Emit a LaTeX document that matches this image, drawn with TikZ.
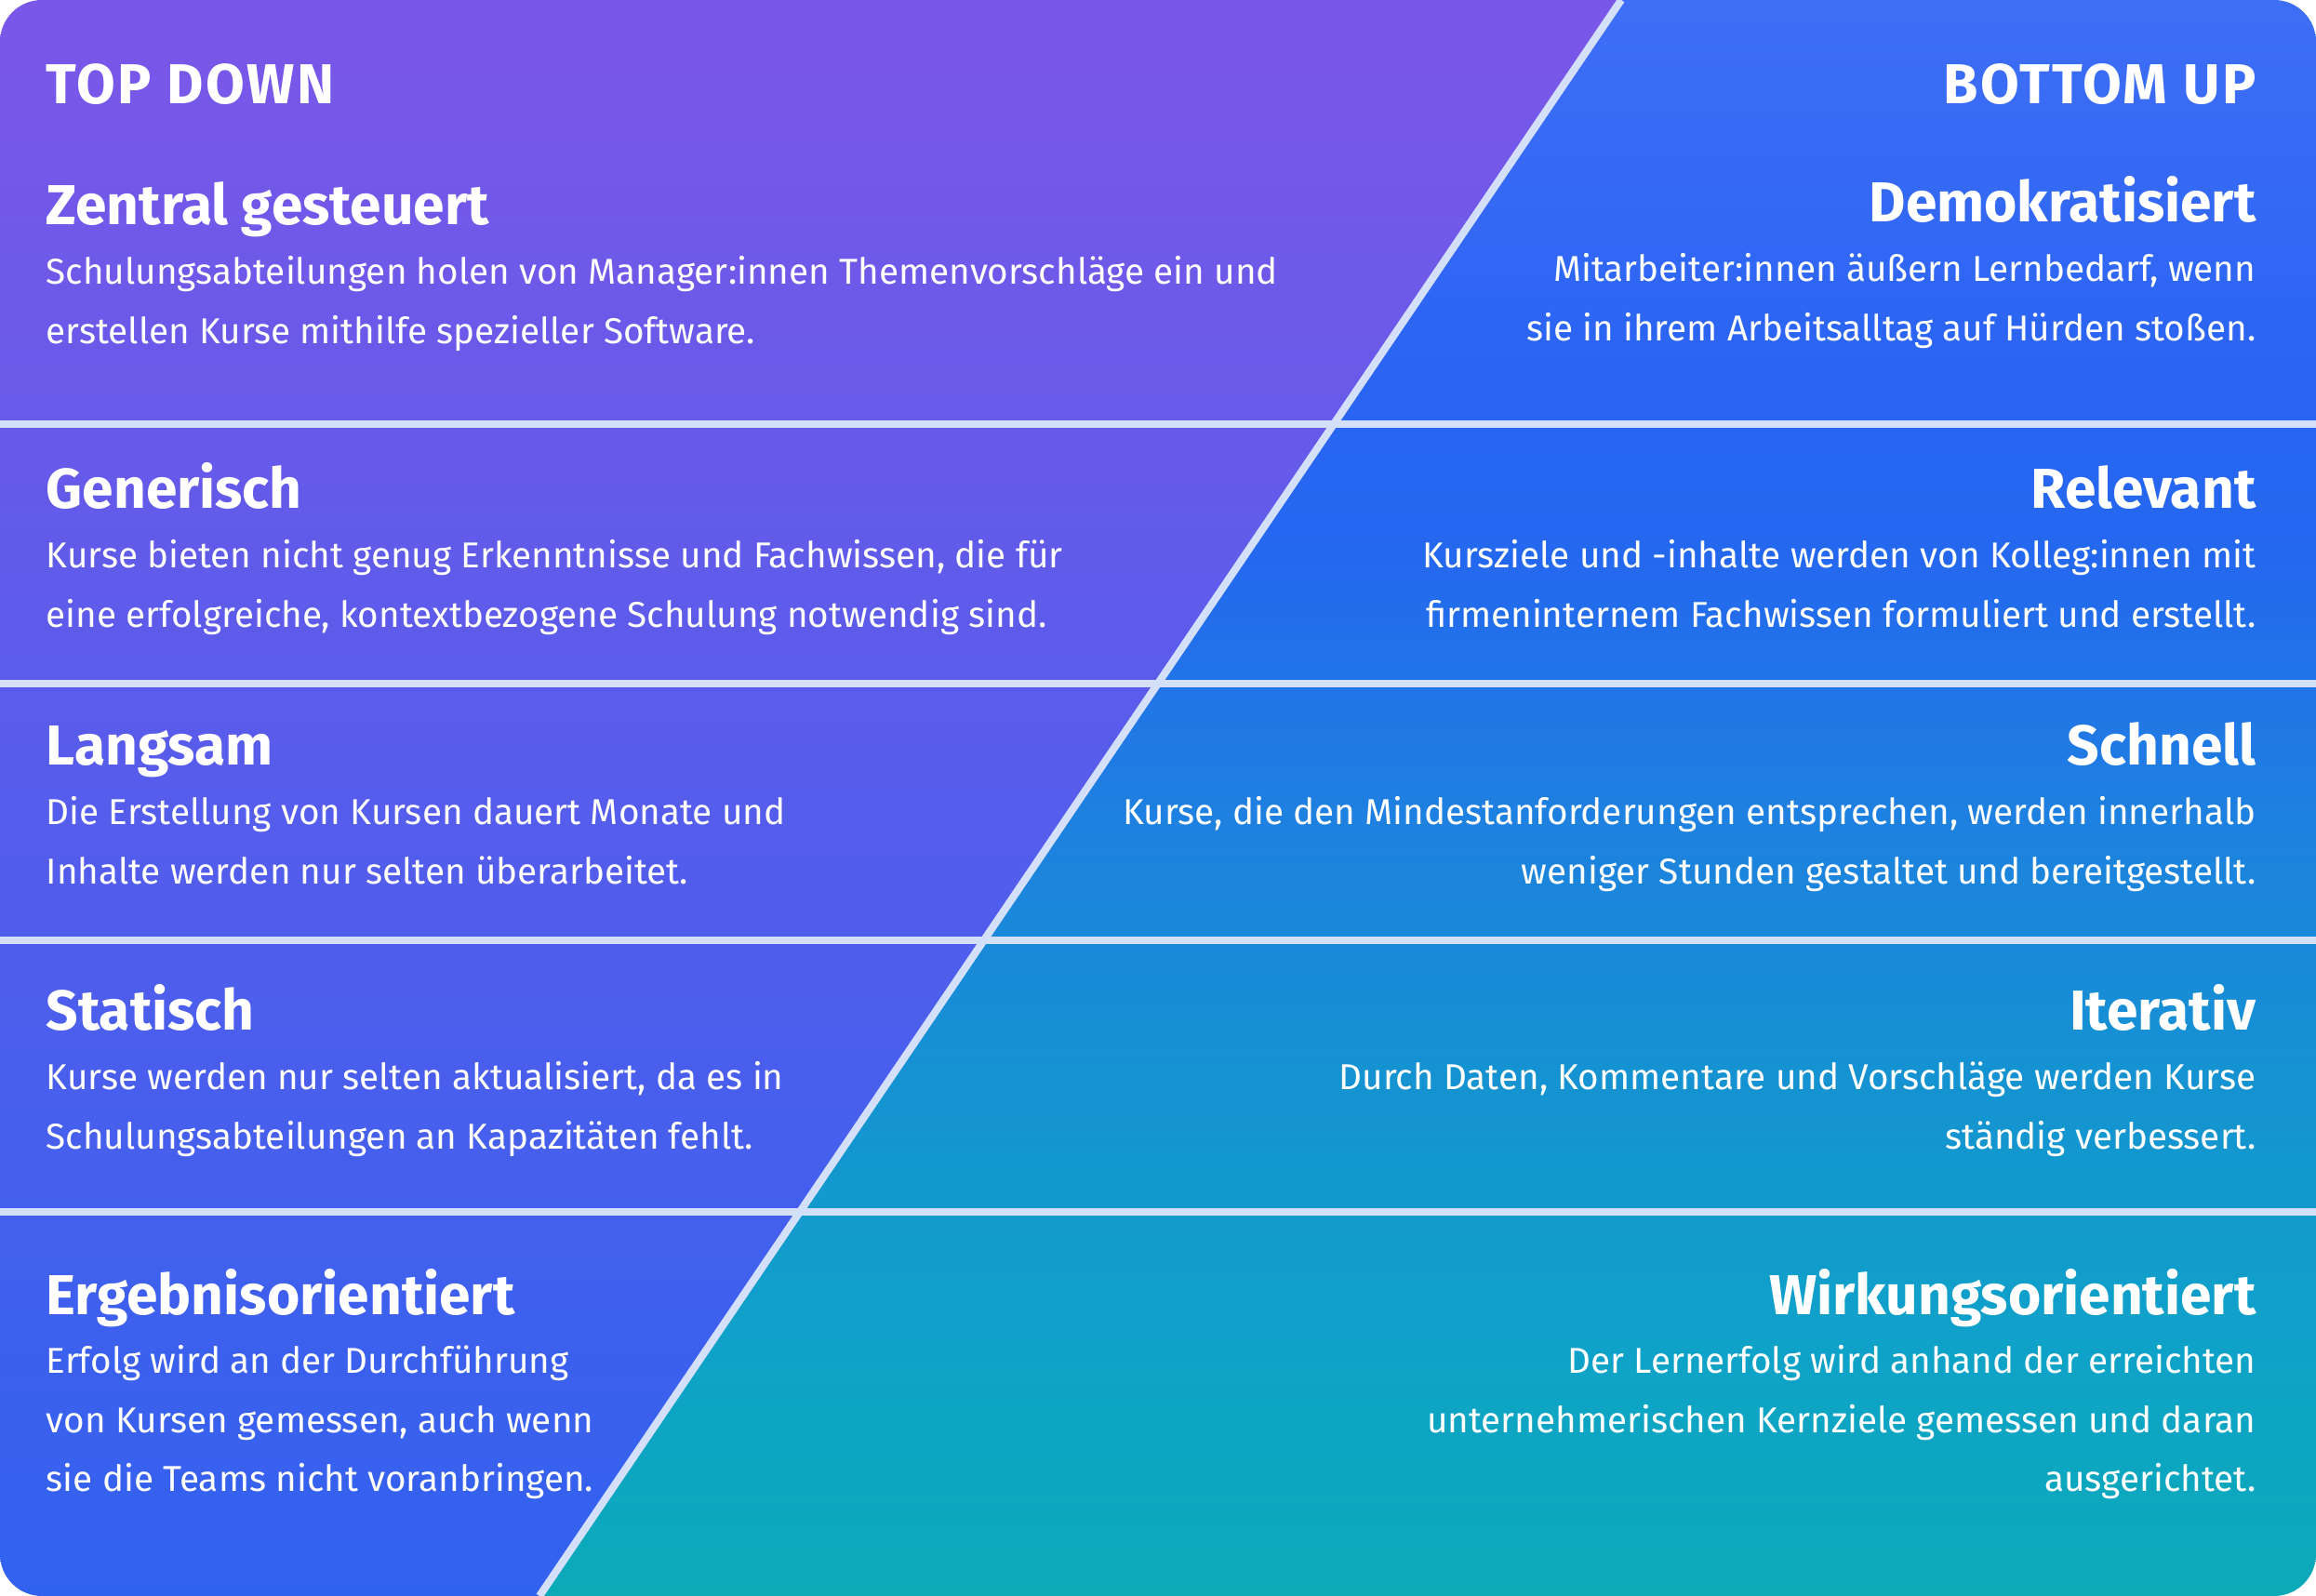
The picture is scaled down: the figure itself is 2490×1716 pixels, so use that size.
\documentclass[tikz,border=0pt]{standalone}
\usepackage{fontspec}
\setmainfont{Fira Sans}
\newfontfamily\gesperrt[LetterSpace=4]{Fira Sans}
\usetikzlibrary{positioning}
\definecolor{lilaoben}{HTML}{7B57E8}
\definecolor{lilamitte}{HTML}{5560ED}
\definecolor{lilaunten}{HTML}{3162EF}
\definecolor{blau1}{HTML}{3F6EF6}
\definecolor{blau2}{HTML}{2A64F3}
\definecolor{blau3}{HTML}{2468EF}
\definecolor{blau4}{HTML}{1E80E0}
\definecolor{blau5}{HTML}{1592D2}
\definecolor{blau6}{HTML}{0FA2C8}
\definecolor{tuerkis}{HTML}{0BAAB8}
\definecolor{trenner}{HTML}{D4E0FA}
\pgfdeclareverticalshading{rechtsverlauf}{100bp}{color(0bp)=(tuerkis); color(25bp)=(tuerkis); color(32.7bp)=(blau6); color(41.5bp)=(blau5); color(49.6bp)=(blau4); color(57.5bp)=(blau3); color(63.3bp)=(blau2); color(75bp)=(blau1); color(100bp)=(blau1)}
\begin{document}
\begin{tikzpicture}[x=0.01cm,y=-0.01cm,
  seite/.style={inner sep=0pt, text=white, font=\gesperrt\fontsize{17.2}{20}\selectfont\bfseries},
  titel/.style={inner sep=0pt, text=white, font=\fontsize{17.2}{20}\selectfont\bfseries},
  links/.style={anchor=base west},
  rechts/.style={anchor=base east},
  fliess/.style={inner sep=0pt, text=white, font=\fontsize{11}{18}\selectfont},
  linie/.style={draw=trenner, line width=2.3pt}]
\fill[white] (0,0) rectangle (2490,1716);
\begin{scope}
\clip[rounded corners=4.5mm] (0,0) rectangle (2490,1716);
\coordinate (oben) at (1743,0);
\coordinate (unten) at (580,1716);
\shade[top color=lilaoben, middle color=lilamitte, bottom color=lilaunten] (0,0) -- (oben) -- (unten) -- (0,1716) -- cycle;
\shade[shading=rechtsverlauf] (oben) -- (2490,0) -- (2490,1716) -- (unten) -- cycle;
\draw[linie] (0,456) -- (2490,456);
\draw[linie] (0,735) -- (2490,735);
\draw[linie] (0,1011) -- (2490,1011);
\draw[linie] (0,1303) -- (2490,1303);
\draw[linie] (oben) -- (unten);
\end{scope}

\node[seite, links] (td) at (49,112) {TOP DOWN};
\node[seite, rechts] (bu) at (2426,112) {BOTTOM UP};

% linke Seite
\node[titel, links] (l1) at (49,242) {Zentral gesteuert};
\node[fliess, links] (lt1a) at ([yshift=-6.35mm]l1.base west) {Schulungsabteilungen holen von Manager:innen Themenvorschläge ein und};
\node[fliess, links] (lt1b) at ([yshift=-6.35mm]lt1a.base west) {erstellen Kurse mithilfe spezieller Software.};
\node[titel, links] (l2) at (49,547) {Generisch};
\node[fliess, links] (lt2a) at ([yshift=-6.35mm]l2.base west) {Kurse bieten nicht genug Erkenntnisse und Fachwissen, die für};
\node[fliess, links] (lt2b) at ([yshift=-6.35mm]lt2a.base west) {eine erfolgreiche, kontextbezogene Schulung notwendig sind.};
\node[titel, links] (l3) at (49,823) {Langsam};
\node[fliess, links] (lt3a) at ([yshift=-6.35mm]l3.base west) {Die Erstellung von Kursen dauert Monate und};
\node[fliess, links] (lt3b) at ([yshift=-6.35mm]lt3a.base west) {Inhalte werden nur selten überarbeitet.};
\node[titel, links] (l4) at (49,1108) {Statisch};
\node[fliess, links] (lt4a) at ([yshift=-6.35mm]l4.base west) {Kurse werden nur selten aktualisiert, da es in};
\node[fliess, links] (lt4b) at ([yshift=-6.35mm]lt4a.base west) {Schulungsabteilungen an Kapazitäten fehlt.};
\node[titel, links] (l5) at (49,1413) {Ergebnisorientiert};
\node[fliess, links] (lt5a) at ([yshift=-6.35mm]l5.base west) {Erfolg wird an der Durchführung};
\node[fliess, links] (lt5b) at ([yshift=-6.35mm]lt5a.base west) {von Kursen gemessen, auch wenn};
\node[fliess, links] (lt5c) at ([yshift=-6.35mm]lt5b.base west) {sie die Teams nicht voranbringen.};

% rechte Seite
\node[titel, rechts] (r1) at (2426,239) {Demokratisiert};
\node[fliess, rechts] (rt1a) at ([yshift=-6.35mm]r1.base east) {Mitarbeiter:innen äußern Lernbedarf, wenn};
\node[fliess, rechts] (rt1b) at ([yshift=-6.35mm]rt1a.base east) {sie in ihrem Arbeitsalltag auf Hürden stoßen.};
\node[titel, rechts] (r2) at (2426,547) {Relevant};
\node[fliess, rechts] (rt2a) at ([yshift=-6.35mm]r2.base east) {Kursziele und -inhalte werden von Kolleg:innen mit};
\node[fliess, rechts] (rt2b) at ([yshift=-6.35mm]rt2a.base east) {firmeninternem Fachwissen formuliert und erstellt.};
\node[titel, rechts] (r3) at (2426,823) {Schnell};
\node[fliess, rechts] (rt3a) at ([yshift=-6.35mm]r3.base east) {Kurse, die den Mindestanforderungen entsprechen, werden innerhalb};
\node[fliess, rechts] (rt3b) at ([yshift=-6.35mm]rt3a.base east) {weniger Stunden gestaltet und bereitgestellt.};
\node[titel, rechts] (r4) at (2426,1108) {Iterativ};
\node[fliess, rechts] (rt4a) at ([yshift=-6.35mm]r4.base east) {Durch Daten, Kommentare und Vorschläge werden Kurse};
\node[fliess, rechts] (rt4b) at ([yshift=-6.35mm]rt4a.base east) {ständig verbessert.};
\node[titel, rechts] (r5) at (2426,1413) {Wirkungsorientiert};
\node[fliess, rechts] (rt5a) at ([yshift=-6.35mm]r5.base east) {Der Lernerfolg wird anhand der erreichten};
\node[fliess, rechts] (rt5b) at ([yshift=-6.35mm]rt5a.base east) {unternehmerischen Kernziele gemessen und daran};
\node[fliess, rechts] (rt5c) at ([yshift=-6.35mm]rt5b.base east) {ausgerichtet.};
\end{tikzpicture}
\end{document}
